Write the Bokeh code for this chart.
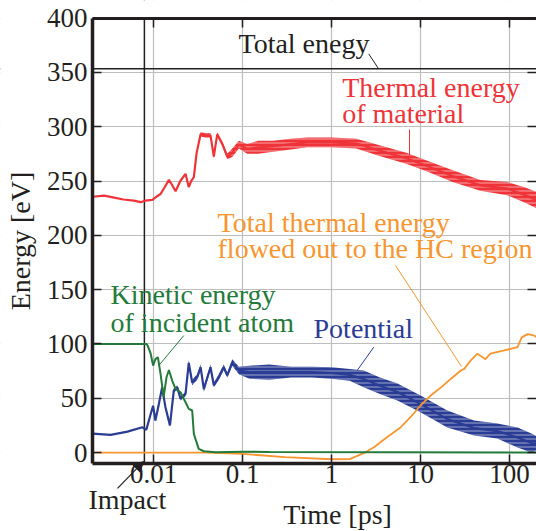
from bokeh.plotting import figure
from bokeh.models import (Span, Label, Arrow, NormalHead, LinearAxis, LogAxis,
                          FixedTicker, Range1d, BoxAnnotation)
from bokeh.embed import file_html
from bokeh.resources import INLINE

# ---------------- data ----------------
x_ticks = [0.01, 0.1, 1, 10, 100]
x_tick_labels = ["0.01", "0.1", "1", "10", "100"]
y_ticks = [0, 50, 100, 150, 200, 250, 300, 350, 400]
x_lo, x_hi = 0.00207, 201      # visible time window [ps]
y_lo, y_hi = -10, 400          # visible energy window [eV]

total_energy = 353.3        # eV
impact_time = 0.0079        # ps

thermal_t = [0.00207, 0.0028, 0.0035, 0.0046, 0.006, 0.0072, 0.0081, 0.0097, 0.011, 0.012,
             0.0135, 0.0149, 0.016, 0.0177, 0.02, 0.0229, 0.0249, 0.0265, 0.0284, 0.0304,
             0.0338, 0.0384, 0.0437, 0.0476, 0.052, 0.0594, 0.0674, 0.0767, 0.091, 0.113,
             0.15, 0.22, 0.35, 0.53, 1.0, 1.9, 3.46, 6.9, 11.7, 23, 47, 94, 150, 201]
thermal_lo = [235.5, 236.5, 235, 233, 232, 230.5, 232, 232.7, 236, 238,
              245, 251, 247, 240.6, 250, 256.6, 244.3, 250, 253.5, 275,
              291, 290, 290, 271, 291, 282, 270, 272, 280, 275,
              275, 277, 279, 281, 281, 280, 273, 266, 259, 249, 241, 237, 230, 225]
thermal_hi = [235.5, 236.5, 235, 233, 232, 230.5, 232, 232.7, 236, 238,
              245, 251, 247, 240.6, 250, 256.6, 244.3, 250, 253.5, 275,
              295, 294, 294, 274, 295, 286, 275, 280, 287, 284,
              287, 287, 289, 290, 290, 289, 283, 276, 269, 260, 251, 249, 244, 240]

potential_t = [0.00207, 0.0033, 0.0051, 0.0075, 0.0083, 0.0093, 0.0099, 0.0105, 0.0115, 0.0125,
               0.0136, 0.0153, 0.0169, 0.0185, 0.0201, 0.0229, 0.0249, 0.0272, 0.031, 0.0338,
               0.0368, 0.0437, 0.0476, 0.0542, 0.0616, 0.0674, 0.0767, 0.091, 0.12, 0.2,
               0.35, 0.6, 1.0, 1.6, 2.3, 3.5, 5.5, 10, 20, 40, 73, 123, 176, 201]
potential_lo = [17.5, 16.3, 19.3, 23.3, 21, 35, 42, 29, 44, 58,
                41, 24, 55, 58, 48, 52, 80, 62, 67, 76,
                56, 76, 60, 67, 76, 69, 80, 72, 68, 67,
                69, 69, 68, 66, 60, 54, 48, 37, 23, 15.6, 12.9, 4.6, 0, 2]
potential_hi = [17.5, 16.3, 19.3, 23.3, 21, 36, 44, 30, 46, 62,
                43, 26, 59, 62, 51, 56, 85, 67, 72, 81,
                61, 81, 64, 72, 81, 73, 86, 79, 80, 81,
                79, 79, 78.5, 77, 75.5, 69, 63.5, 52.5, 38.6, 29.5, 26.7, 23, 17.5, 15]

kinetic_t = [0.00207, 0.0083, 0.0086, 0.0093, 0.0099, 0.0105, 0.0112, 0.012, 0.013, 0.014,
             0.0149, 0.0162, 0.0177, 0.0201, 0.0229, 0.0249, 0.0272, 0.0284, 0.0322, 0.0368,
             0.05, 0.1, 0.2, 201]
kinetic_e = [100, 100, 98.5, 91, 80, 86, 87.8, 72.5, 51, 69.3,
             76, 66.3, 58.6, 55.5, 46.3, 40.2, 38.7, 17.2, 3.4, 1.2,
             0.3, 0.8, 0.5, 0]

outflow_t = [0.00207, 0.04, 0.1, 0.3, 1.0, 1.6, 2.3, 3.0, 4.2, 6.0, 7.7, 10, 13, 17, 22,
             28.4, 31, 36.5, 43.6, 53.6, 61, 87, 123, 137, 160, 190, 201]
outflow_e = [0, 0, -1.2, -4.3, -6.2, -6, -0.6, 4.9, 14, 23.3, 32.5, 43.3, 52.5, 60, 68,
             75.5, 77, 84.7, 91, 86, 91, 94, 97, 106, 109, 107.7, 106]

# ---------------- styles ----------------
FONT = "Liberation Serif"
FS = "27px"
FS_NOTE = "28px"
RED, BLUE, GREEN, ORANGE = "#ee3439", "#2b3c94", "#237a3a", "#f7952f"
INK = "#231f20"

# the frame covers the whole canvas so that the texts outside the axes box
# are not clipped; white masks hide the grid outside the box
p = figure(width=536, height=531, x_axis_type="log",
           x_range=Range1d(10 ** -3.719, 10 ** 2.303), y_range=Range1d(-72.7, 416.2),
           output_backend="svg", toolbar_location=None,
           min_border_left=0, min_border_right=0, min_border_top=0, min_border_bottom=0)
p.outline_line_color = None
p.background_fill_color = "white"

# grids
p.xgrid.ticker = FixedTicker(ticks=x_ticks)
p.ygrid.ticker = FixedTicker(ticks=y_ticks)
for g in (p.xgrid, p.ygrid):
    g.grid_line_color = "#bdbdbd"
    g.grid_line_width = 1.2

# reference lines (under the masks)
p.add_layout(Span(location=total_energy, dimension="width", line_color=INK, line_width=1.5,
                  level="underlay"))
p.add_layout(Span(location=impact_time, dimension="height", line_color=INK, line_width=1.5,
                  level="underlay"))

# white masks outside the axes box
mask = dict(fill_color="white", fill_alpha=1, line_color=None, level="underlay")
p.add_layout(BoxAnnotation(right=x_lo, **mask))
p.add_layout(BoxAnnotation(top=y_lo, **mask))
p.add_layout(BoxAnnotation(bottom=y_hi, **mask))

# axes
xa = p.xaxis[0]
xa.ticker = FixedTicker(ticks=x_ticks)
xa.major_label_overrides = {t: s for t, s in zip(x_ticks, x_tick_labels)}
xa.fixed_location = y_lo
xa.bounds = (x_lo, x_hi)
ya = p.yaxis[0]
ya.ticker = FixedTicker(ticks=y_ticks)
ya.axis_label = "Energy [eV]"
ya.fixed_location = x_lo
ya.bounds = (y_lo, y_hi)
for ax in (xa, ya):
    ax.axis_line_color = INK
    ax.axis_line_width = 3.5
    ax.major_tick_in = 9
    ax.major_tick_out = 0
    ax.major_tick_line_color = INK
    ax.major_tick_line_width = 1.5
    ax.minor_tick_line_color = None
    ax.major_label_text_font = FONT
    ax.major_label_text_font_size = FS
    ax.major_label_text_color = INK
    ax.axis_label_text_font = FONT
    ax.axis_label_text_font_size = "28px"
    ax.axis_label_text_font_style = "normal"
    ax.axis_label_text_color = INK
xa.major_label_standoff = 2
ya.major_label_standoff = 5
ya.axis_label_standoff = 8

top = LogAxis(ticker=FixedTicker(ticks=x_ticks), axis_line_color=INK, axis_line_width=3,
              bounds=(x_lo, x_hi), fixed_location=y_hi,
              major_tick_in=9, major_tick_out=0, major_tick_line_color=INK, major_tick_line_width=1.5,
              minor_tick_line_color=None, major_label_text_font_size="1px",
              major_label_text_color=None, major_label_standoff=0)
p.add_layout(top, "above")
right = LinearAxis(ticker=FixedTicker(ticks=y_ticks), axis_line_color=None, fixed_location=x_hi,
                   major_tick_in=9, major_tick_out=0, major_tick_line_color=INK, major_tick_line_width=1.5,
                   minor_tick_line_color=None, major_label_text_font_size="1px",
                   major_label_text_color=None, major_label_standoff=0)
p.add_layout(right, "right")

# series
hatch = dict(hatch_pattern="horizontal_line", hatch_color="white", hatch_alpha=0.55,
             hatch_scale=4, hatch_weight=1)
p.varea(x=potential_t, y1=potential_lo, y2=potential_hi, fill_color=BLUE, **hatch)
p.line(potential_t, [(a + b) / 2 for a, b in zip(potential_lo, potential_hi)],
       line_color=BLUE, line_width=2.2)
p.varea(x=thermal_t, y1=thermal_lo, y2=thermal_hi, fill_color=RED, **hatch)
p.line(thermal_t, [(a + b) / 2 for a, b in zip(thermal_lo, thermal_hi)],
       line_color=RED, line_width=2.2)
p.line(outflow_t, outflow_e, line_color=ORANGE, line_width=1.8)
p.line(kinetic_t, kinetic_e, line_color=GREEN, line_width=2.0)

# annotations
LIFT = 9.2   # labels render ~10 px below their nominal baseline

def lab(x, y, text, color, align="left"):
    p.add_layout(Label(x=x, y=y + LIFT, text=text, text_font=FONT, text_font_size=FS_NOTE,
                       text_color=color, text_align=align, text_baseline="alphabetic"))

def leader(x0, y0, x1, y1, color, width=1.0):
    p.add_layout(Arrow(end=None, x_start=x0, y_start=y0, x_end=x1, y_end=y1,
                       line_color=color, line_width=width))

lab(0.0901, 367.1, "Total enegy", INK)
leader(2.62, 367, 3.38, total_energy, INK)

lab(1.318, 327.2, "Thermal energy", RED)
lab(1.318, 302.7, "of material", RED)
leader(7.52, 297.4, 7.52, 273.5, RED)

lab(0.0524, 202.9, "Total thermal energy", ORANGE)
lab(0.0524, 178.4, "flowed out to the HC region", ORANGE)
leader(5.24, 172.2, 28.9, 79.2, ORANGE)

lab(0.00329, 136.3, "Kinetic energy", GREEN)
lab(0.00329, 110.8, "of incident atom", GREEN)
leader(0.0219, 107.7, 0.01147, 80.1, GREEN)

lab(0.628, 104.7, "Potential", BLUE)
leader(2.98, 97, 1.94, 75.5, BLUE)

lab(0.00186, -52.5, "Impact", INK)
p.add_layout(Arrow(end=NormalHead(size=10, fill_color=INK, line_color=INK),
                   x_start=0.00394, y_start=-33, x_end=0.00772, y_end=-8.3,
                   line_color=INK, line_width=1.2))

lab(1.17, -66.3, "Time [ps]", INK, align="center")

open("out.html", "w").write(file_html(p, INLINE))
